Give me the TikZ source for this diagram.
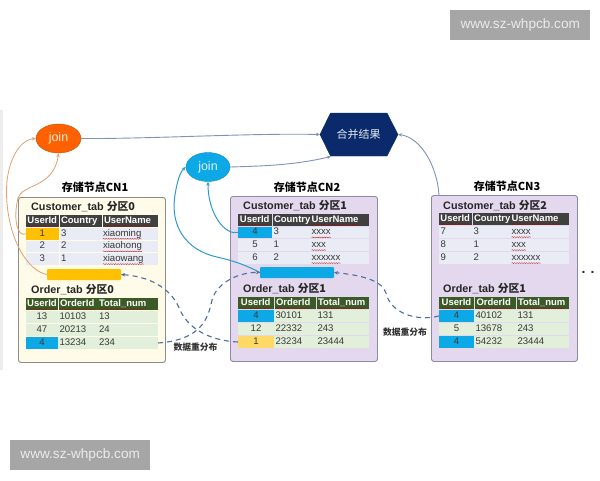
\documentclass[tikz,border=0pt]{standalone}
\usepackage{fontspec}
\setmainfont{Liberation Sans}
\newfontfamily\cjk{Noto Sans CJK SC}
\usetikzlibrary{shapes.geometric,arrows.meta,decorations.pathmorphing}
\definecolor{hdark}{HTML}{404040}
\definecolor{hgreen}{HTML}{3A5A26}
\definecolor{rowlil}{HTML}{E9EBF5}
\definecolor{rowgrn}{HTML}{E2EFDA}
\definecolor{blu}{HTML}{0DA9E6}
\definecolor{amb}{HTML}{FFC000}
\definecolor{yel}{HTML}{FFD966}
\definecolor{navy}{HTML}{0B2A6B}
\definecolor{cream}{HTML}{FFFBE9}
\definecolor{lil}{HTML}{E3D8EE}
\definecolor{lnk}{HTML}{7F93B8}
\definecolor{dsh}{HTML}{4F6E9B}
\definecolor{orl}{HTML}{E0A070}
\definecolor{bll}{HTML}{2E9CC8}
\definecolor{wm}{HTML}{A6A6A6}
\definecolor{pbord}{HTML}{8C88A8}
\tikzset{
  panelbox/.style={draw=#1,line width=.9pt,rounded corners=2.5pt,anchor=north west,inner sep=0pt},
  cellbg/.style={anchor=north west,inner sep=0pt,outer sep=0pt},
  celltxt/.style={inner sep=0pt,outer sep=0pt,font=\rowfont,text=\rowtext,text height=7pt,text depth=2pt},
  title/.style={inner sep=0pt,font=\fontsize{11}{13}\selectfont\cjk\bfseries,text=black},
  tabname/.style={inner sep=0pt,anchor=base west,font=\fontsize{10.8}{13}\selectfont\bfseries,text=black!85},
  squig/.style={draw=red!70!black,line width=.3pt,decorate,decoration={snake,amplitude=.45pt,segment length=2.4pt}},
  orcurve/.style={draw=orl,line width=.8pt,-{Stealth[length=4pt,width=3.5pt]}},
  blcurve/.style={draw=bll,line width=1pt,-{Stealth[length=4pt,width=3.5pt]}},
  lkcurve/.style={draw=lnk,line width=.9pt,-{Stealth[length=4pt,width=3.5pt]}},
  dashcurve/.style={draw=dsh,line width=1.1pt,dash pattern=on 5pt off 4pt,-{Stealth[length=4pt,width=3.5pt]}},
  redist/.style={inner sep=0pt,font=\fontsize{8.8}{10}\selectfont\cjk\bfseries,text=black!80},
  wmark/.style={fill=wm,text=white!92!black,inner sep=0pt,font=\fontsize{13.6}{15}\selectfont},
  joinnode/.style={ellipse,inner sep=0pt,minimum height=29pt,font=\fontsize{12.5}{14}\selectfont},
}
\newcommand\rowfont{}
\newcommand\rowtext{}
\newcommand\ccell[7]{% name,x0,x1,y0,y1,fill,text (centred)
  \pgfmathsetmacro\cw{#3-#2}\pgfmathsetmacro\ch{#5-#4}
  \node[cellbg,fill=#6,minimum width=\cw pt,minimum height=\ch pt] (#1) at (#2,#4) {};
  \node[celltxt] (#1-t) at (#1.center) {#7};}
\newcommand\lcell[7]{% name,x0,x1,y0,y1,fill,text (left)
  \pgfmathsetmacro\cw{#3-#2}\pgfmathsetmacro\ch{#5-#4}
  \node[cellbg,fill=#6,minimum width=\cw pt,minimum height=\ch pt] (#1) at (#2,#4) {};
  \node[celltxt,anchor=west] (#1-t) at ([xshift=1.5pt]#1.west) {#7};}
\newcommand\sq[1]{\draw[squig] ([yshift=-.6pt]#1.south west) -- ([yshift=-.6pt]#1.south east);}
\newcommand\tabtitle[4]{% name,x,y,text + cjk part
  \node[tabname] (#1) at (#2,#3) {#4};}
\newcommand\headfont{\renewcommand\rowfont{\fontsize{9.5}{11}\selectfont\bfseries}\renewcommand\rowtext{white}}
\newcommand\bodyfont{\renewcommand\rowfont{\fontsize{9.6}{11}\selectfont}\renewcommand\rowtext{black!78}}
\begin{document}
\begin{tikzpicture}[x=1pt,y=-1pt]
\useasboundingbox (0,0) rectangle (600,480);
\fill[white] (0,0) rectangle (600,480);
\fill[black!7] (0,110) rectangle (2.5,370);

% panels
\node[panelbox=black!45,fill=cream,minimum width=147pt,minimum height=165pt] (p1) at (18,197) {};
\node[panelbox=pbord,fill=lil,minimum width=147pt,minimum height=165pt] (p2) at (230,196) {};
\node[panelbox=pbord,fill=lil,minimum width=146pt,minimum height=166pt] (p3) at (431,195) {};
\node[title] (t1) at (95,187) {存储节点CN1};
\node[title] (t2) at (307,187) {存储节点CN2};
\node[title] (t3) at (507,186) {存储节点CN3};

% ---- CN1 customer
\tabtitle{n1}{31}{210}{Customer\_tab {\cjk 分区0}}
\headfont
\ccell{a0a}{26}{58.5}{215}{227}{hdark}{UserId}
\lcell{a0b}{59.5}{101.5}{215}{227}{hdark}{Country}
\lcell{a0c}{102.5}{158}{215}{227}{hdark}{UserName}
\bodyfont
\ccell{a1a}{26}{58.5}{228}{239.5}{amb}{1}
\lcell{a1b}{59.5}{101.5}{228}{239.5}{rowlil}{3}
\lcell{a1c}{101.5}{158}{228}{239.5}{rowlil}{xiaoming}
\ccell{a2a}{26}{58.5}{240.5}{252}{rowlil}{2}
\lcell{a2b}{59.5}{101.5}{240.5}{252}{rowlil}{2}
\lcell{a2c}{101.5}{158}{240.5}{252}{rowlil}{xiaohong}
\ccell{a3a}{26}{58.5}{253}{265}{rowlil}{3}
\lcell{a3b}{59.5}{101.5}{253}{265}{rowlil}{1}
\lcell{a3c}{101.5}{158}{253}{265}{rowlil}{xiaowang}
\node[cellbg,fill=amb,rounded corners=1pt,minimum width=74pt,minimum height=11pt] (bar1) at (47,269) {};

% ---- CN1 order
\tabtitle{n2}{31}{293}{Order\_tab {\cjk 分区0}}
\headfont
\ccell{b0a}{26}{58}{298}{310}{hgreen}{UserId}
\lcell{b0b}{58.5}{97.5}{298}{310}{hgreen}{OrderId}
\lcell{b0c}{97.5}{158}{298}{310}{hgreen}{Total\_num}
\bodyfont
\ccell{b1a}{26}{58}{311}{323}{rowgrn}{13}
\lcell{b1b}{58}{97.5}{311}{323}{rowgrn}{10103}
\lcell{b1c}{97.5}{158}{311}{323}{rowgrn}{13}
\ccell{b2a}{26}{58}{324}{336}{rowgrn}{47}
\lcell{b2b}{58}{97.5}{324}{336}{rowgrn}{20213}
\lcell{b2c}{97.5}{158}{324}{336}{rowgrn}{24}
\ccell{b3a}{26}{58}{337}{349}{blu}{4}
\lcell{b3b}{58}{97.5}{337}{349}{rowgrn}{13234}
\lcell{b3c}{97.5}{158}{337}{349}{rowgrn}{234}

% ---- CN2 customer
\tabtitle{n3}{243}{209}{Customer\_tab {\cjk 分区1}}
\headfont
\ccell{c0a}{238}{271.5}{214}{225.5}{hdark}{UserId}
\lcell{c0b}{272.5}{310}{214}{225.5}{hdark}{Country}
\lcell{c0c}{310}{369}{214}{225.5}{hdark}{UserName}
\bodyfont
\ccell{c1a}{238}{272}{226.5}{238}{blu}{4}
\lcell{c1b}{272}{310}{226.5}{238}{rowlil}{3}
\lcell{c1c}{310}{369}{226.5}{238}{rowlil}{xxxx}
\ccell{c2a}{238}{272}{239}{251}{rowlil}{5}
\lcell{c2b}{272}{310}{239}{251}{rowlil}{1}
\lcell{c2c}{310}{369}{239}{251}{rowlil}{xxx}
\ccell{c3a}{238}{272}{252}{264}{rowlil}{6}
\lcell{c3b}{272}{310}{252}{264}{rowlil}{2}
\lcell{c3c}{310}{369}{252}{264}{rowlil}{xxxxxx}
\node[cellbg,fill=blu,rounded corners=1pt,minimum width=74pt,minimum height=11pt] (bar2) at (260,267) {};

% ---- CN2 order
\tabtitle{n4}{243}{292}{Order\_tab {\cjk 分区1}}
\headfont
\ccell{d0a}{238}{273.5}{297}{309}{hgreen}{UserId}
\lcell{d0b}{274.5}{315.5}{297}{309}{hgreen}{OrderId}
\lcell{d0c}{316.5}{369}{297}{309}{hgreen}{Total\_num}
\bodyfont
\ccell{d1a}{238}{274}{310}{322}{blu}{4}
\lcell{d1b}{274}{316}{310}{322}{rowgrn}{30101}
\lcell{d1c}{316}{369}{310}{322}{rowgrn}{131}
\ccell{d2a}{238}{274}{323}{335}{rowgrn}{12}
\lcell{d2b}{274}{316}{323}{335}{rowgrn}{22332}
\lcell{d2c}{316}{369}{323}{335}{rowgrn}{243}
\ccell{d3a}{238}{274}{336}{348}{yel}{1}
\lcell{d3b}{274}{316}{336}{348}{rowgrn}{23234}
\lcell{d3c}{316}{369}{336}{348}{rowgrn}{23444}

% ---- CN3 customer
\tabtitle{n5}{443}{209}{Customer\_tab {\cjk 分区2}}
\headfont
\ccell{e0a}{439}{471.5}{213}{225}{hdark}{UserId}
\lcell{e0b}{472.5}{510}{213}{225}{hdark}{Country}
\lcell{e0c}{510}{569}{213}{225}{hdark}{UserName}
\bodyfont
\lcell{e1a}{439}{472}{226}{238}{rowlil}{7}
\lcell{e1b}{472}{510}{226}{238}{rowlil}{3}
\lcell{e1c}{510}{569}{226}{238}{rowlil}{xxxx}
\lcell{e2a}{439}{472}{239}{251}{rowlil}{8}
\lcell{e2b}{472}{510}{239}{251}{rowlil}{1}
\lcell{e2c}{510}{569}{239}{251}{rowlil}{xxx}
\lcell{e3a}{439}{472}{252}{264}{rowlil}{9}
\lcell{e3b}{472}{510}{252}{264}{rowlil}{2}
\lcell{e3c}{510}{569}{252}{264}{rowlil}{xxxxxx}

% ---- CN3 order
\tabtitle{n6}{443}{292}{Order\_tab {\cjk 分区1}}
\headfont
\ccell{f0a}{439}{474}{297}{309}{hgreen}{UserId}
\lcell{f0b}{475}{516}{297}{309}{hgreen}{OrderId}
\lcell{f0c}{516.5}{569}{297}{309}{hgreen}{Total\_num}
\bodyfont
\ccell{f1a}{439}{474}{310}{322}{blu}{4}
\lcell{f1b}{474}{516}{310}{322}{rowgrn}{40102}
\lcell{f1c}{516}{569}{310}{322}{rowgrn}{131}
\ccell{f2a}{439}{474}{323}{335}{rowgrn}{5}
\lcell{f2b}{474}{516}{323}{335}{rowgrn}{13678}
\lcell{f2c}{516}{569}{323}{335}{rowgrn}{243}
\ccell{f3a}{439}{474}{336}{348}{blu}{4}
\lcell{f3b}{474}{516}{336}{348}{rowgrn}{54232}
\lcell{f3c}{516}{569}{336}{348}{rowgrn}{23444}

% squiggles
\foreach \k in {a0a,a0c,a1c,a2c,a3c,b0a,b0b,b0c,c0a,c0c,c1c,c2c,c3c,d0a,d0b,d0c,e0a,e0c,e1c,e2c,e3c,f0a,f0b,f0c}{\sq{\k-t}}

% process nodes
\node[joinnode,draw=orange!70!black,fill=orange!75!red,minimum width=45pt,text=white!85!orange] (join1) at (58.5,138.5) {join};
\node[joinnode,fill=blu,draw=blu!85!black,minimum width=44pt,text=white!85!blu] (join2) at (208,167) {join};
\draw[fill=navy,draw=navy] (320,134.5) -- (330.5,113) -- (387,113) -- (398,134.5) -- (387,156) -- (330.5,156) -- cycle;
\node[inner sep=0pt,text=white!90!navy,font=\fontsize{11}{13}\selectfont\cjk] (merge) at (358.5,134.5) {合并结果};
\coordinate (hexW) at (320,134.5);
\coordinate (hexE) at (398,134.5);
\coordinate (hexSW) at (331,156.5);
\coordinate (p3top) at (439,195);

% links to merge
\draw[lkcurve] (join1.east) .. controls (150,139) and (250,133) .. (hexW);
\draw[lkcurve] (join2.east) .. controls (265,166) and (295,165) .. (hexSW);
\draw[lkcurve] (p3top) .. controls (437,165) and (420,137) .. (hexE);

% orange
\draw[orcurve] (bar1.west) .. controls (28,271) and (8,240) .. (6.5,195) .. controls (5.5,165) and (18,140) .. (join1.west);
\draw[orcurve] (a1a.west) .. controls (17,238) and (13,218) .. (18,198) .. controls (22,184) and (54,188) .. (join1.south);
% blue
\draw[blcurve] (bar2.west) .. controls (240,262) and (225,259) .. (217,257) .. controls (185,250) and (170,225) .. (175,195) .. controls (177,182) and (180,172) .. (join2.west);
\draw[blcurve] (c1a.west) .. controls (226,236) and (208,215) .. (join2.south);

% dashed redistribution
\draw[dashcurve] (d3a.west) .. controls (215,341) and (190,332) .. (180,310) .. controls (173,292) and (155,277) .. (bar1.east);
\draw[dashcurve] (b3c.east) .. controls (200,340) and (208,320) .. (212,300) .. controls (217,282) and (240,272) .. (bar2.west);
\draw[dashcurve] (f1a.west) .. controls (415,322) and (390,312) .. (386,293) .. controls (382,280) and (360,275) .. (bar2.east);

\node[redist] (r1) at (195.5,347.5) {数据重分布};
\node[redist] (r2) at (405,332) {数据重分布};
\node[inner sep=0pt,font=\fontsize{14}{16}\selectfont\bfseries,text=black!85] (dots) at (588,272) {. .};

% watermarks
\node[wmark,anchor=north west,minimum width=140pt,minimum height=30pt] (w1) at (450,10) {www.sz-whpcb.com};
\node[wmark,anchor=north west,minimum width=140pt,minimum height=30pt] (w2) at (10,440) {www.sz-whpcb.com};
\end{tikzpicture}
\end{document}
